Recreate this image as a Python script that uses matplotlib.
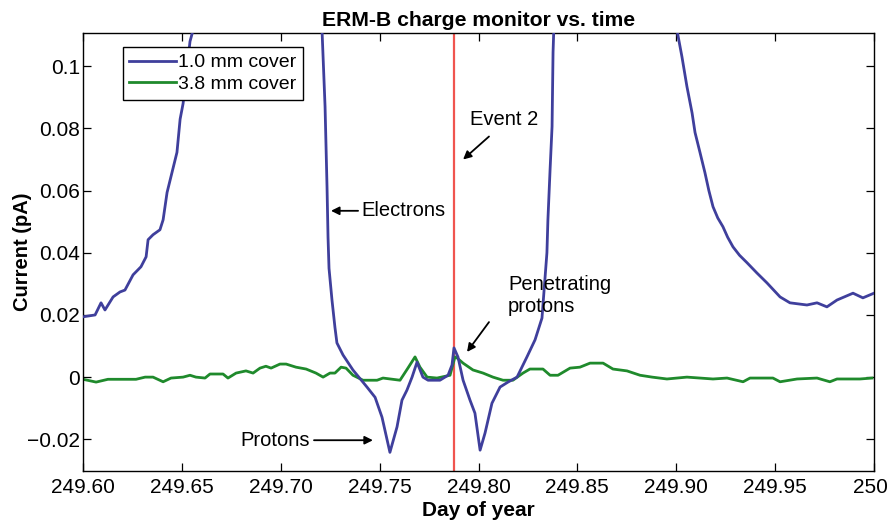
import matplotlib
matplotlib.use("Agg")
import matplotlib.pyplot as plt
import matplotlib.transforms as mtransforms

plt.rcParams['font.family'] = ['Liberation Sans', 'DejaVu Sans']

blue_day = [249.6000, 249.6061, 249.6091, 249.6111, 249.6152, 249.6187, 249.6212, 249.6253,
            249.6293, 249.6319, 249.6329, 249.6354, 249.6389, 249.6405, 249.6425, 249.6475,
            249.6491, 249.6506, 249.6541, 249.6556, 249.6580, 249.6900, 249.7195, 249.7209,
            249.7224, 249.7234, 249.7239, 249.7244, 249.7259, 249.7274, 249.7284, 249.7315,
            249.7365, 249.7436, 249.7477, 249.7512, 249.7552, 249.7588, 249.7613, 249.7638,
            249.7664, 249.7689, 249.7719, 249.7745, 249.7805, 249.7846, 249.7866, 249.7876,
            249.7896, 249.7922, 249.7957, 249.7982, 249.8008, 249.8033, 249.8068, 249.8109,
            249.8149, 249.8195, 249.8245, 249.8286, 249.8321, 249.8346, 249.8351, 249.8362,
            249.8372, 249.8377, 249.8385, 249.8700, 249.8995, 249.9004, 249.9029, 249.9054,
            249.9080, 249.9095, 249.9120, 249.9145, 249.9165, 249.9186, 249.9210, 249.9236,
            249.9260, 249.9287, 249.9320, 249.9358, 249.9408, 249.9459, 249.9525, 249.9575,
            249.9661, 249.9712, 249.9762, 249.9813, 249.9894, 249.9944, 250.0000]
blue_val = [0.0194, 0.0200, 0.0239, 0.0216, 0.0258, 0.0274, 0.0280, 0.0329,
            0.0355, 0.0387, 0.0442, 0.0458, 0.0474, 0.0506, 0.0594, 0.0723,
            0.0830, 0.0880, 0.1080, 0.1115, 0.1200, 0.2000, 0.1200, 0.1110,
            0.0870, 0.0610, 0.0450, 0.0350, 0.0248, 0.0160, 0.0110, 0.0071,
            0.0023, -0.0032, -0.0065, -0.0129, -0.0242, -0.0160, -0.0074, -0.0042,
            0.0000, 0.0048, 0.0000, -0.0010, -0.0010, 0.0006, 0.0039, 0.0094,
            0.0065, -0.0010, -0.0074, -0.0116, -0.0235, -0.0180, -0.0084, -0.0032,
            -0.0016, 0.0000, 0.0065, 0.0120, 0.0190, 0.0400, 0.0506, 0.0668,
            0.0806, 0.1045, 0.1200, 0.2000, 0.1200, 0.1115, 0.1030, 0.0935,
            0.0850, 0.0787, 0.0723, 0.0658, 0.0600, 0.0548, 0.0512, 0.0484,
            0.0450, 0.0419, 0.0392, 0.0368, 0.0335, 0.0303, 0.0258, 0.0239,
            0.0232, 0.0239, 0.0226, 0.0248, 0.0270, 0.0255, 0.0270]

green_day = [249.6000, 249.6066, 249.6126, 249.6268, 249.6314, 249.6354, 249.6405, 249.6445,
             249.6506, 249.6541, 249.6571, 249.6617, 249.6642, 249.6708, 249.6733, 249.6774,
             249.6824, 249.6860, 249.6895, 249.6925, 249.6951, 249.6996, 249.7027, 249.7077,
             249.7128, 249.7178, 249.7214, 249.7249, 249.7274, 249.7305, 249.7330, 249.7365,
             249.7416, 249.7487, 249.7517, 249.7603, 249.7643, 249.7679, 249.7704, 249.7740,
             249.7790, 249.7856, 249.7881, 249.7891, 249.7922, 249.7972, 249.8023, 249.8073,
             249.8124, 249.8174, 249.8225, 249.8260, 249.8326, 249.8362, 249.8402, 249.8463,
             249.8513, 249.8564, 249.8630, 249.8680, 249.8751, 249.8817, 249.8878, 249.8953,
             249.9054, 249.9186, 249.9257, 249.9338, 249.9373, 249.9489, 249.9525, 249.9611,
             249.9712, 249.9777, 249.9813, 249.9929, 249.9990]
green_val = [-0.0007, -0.0016, -0.0007, -0.0007, 0.0000, 0.0000, -0.0015, -0.0003,
             0.0000, 0.0006, 0.0000, -0.0003, 0.0010, 0.0010, -0.0003, 0.0013,
             0.0020, 0.0013, 0.0029, 0.0035, 0.0029, 0.0042, 0.0042, 0.0032,
             0.0026, 0.0013, 0.0000, 0.0013, 0.0013, 0.0032, 0.0029, 0.0006,
             -0.0010, -0.0010, -0.0003, -0.0010, 0.0029, 0.0065, 0.0032, 0.0000,
             -0.0003, 0.0006, 0.0065, 0.0062, 0.0045, 0.0023, 0.0013, 0.0000,
             -0.0010, -0.0010, 0.0013, 0.0026, 0.0026, 0.0006, 0.0006, 0.0029,
             0.0032, 0.0045, 0.0045, 0.0026, 0.0020, 0.0006, 0.0000, -0.0006,
             0.0000, -0.0006, -0.0003, -0.0015, -0.0003, -0.0003, -0.0015, -0.0006,
             -0.0003, -0.0015, -0.0006, -0.0006, -0.0003]

event_day = 249.7876

x_ticks = [249.60, 249.65, 249.70, 249.75, 249.80, 249.85, 249.90, 249.95, 250.00]
x_labels = ['249.60', '249.65', '249.70', '249.75', '249.80', '249.85', '249.90', '249.95', '250']
y_ticks = [-0.02, 0.0, 0.02, 0.04, 0.06, 0.08, 0.10]
y_labels = ['\u22120.02', '0', '0.02', '0.04', '0.06', '0.08', '0.1']

fig = plt.figure(figsize=(8.89, 5.22), dpi=100)
ax = fig.add_axes([0.0934, 0.0977, 0.8897, 0.8391])

BLUE = '#3f3f9c'
GREEN = '#1f8a2c'
RED = '#f0554f'

ax.axvline(event_day, color=RED, lw=1.6, zorder=1)
ax.plot(blue_day, blue_val, color=BLUE, lw=2.0, label='1.0 mm cover', zorder=3)
ax.plot(green_day, green_val, color=GREEN, lw=2.0, label='3.8 mm cover', zorder=2)

ax.set_xlim(249.60, 250.00)
ax.set_ylim(-0.0302, 0.1107)
ax.set_xticks(x_ticks)
ax.set_xticklabels(x_labels)
ax.set_yticks(y_ticks)
ax.set_yticklabels(y_labels)
ax.tick_params(direction='in', length=6, width=0.9, top=True, right=True, labelsize=15)
ax.tick_params(axis='x', pad=5)
ax.tick_params(axis='y', pad=2)
for s in ax.spines.values():
    s.set_linewidth(1.0)

# keep the last x label inside the picture
last = ax.get_xticklabels()[-1]
last.set_transform(last.get_transform() +
                   mtransforms.ScaledTranslation(-4 / 100, 0, fig.dpi_scale_trans))

ax.set_title('ERM-B charge monitor vs. time', fontsize=15.2, fontweight='bold', pad=5)
ax.set_xlabel('Day of year', fontsize=15, fontweight='bold', labelpad=3)
ax.set_ylabel('Current (pA)', fontsize=14.5, fontweight='bold')
ax.yaxis.set_label_coords(-0.064, 0.5)

leg = ax.legend(loc='upper left', bbox_to_anchor=(0.05, 0.968), fontsize=14,
                frameon=True, fancybox=False, framealpha=1, edgecolor='black',
                handlelength=2.4, handletextpad=0.1, borderpad=0.35, labelspacing=0.2,
                borderaxespad=0)
leg.get_frame().set_linewidth(1.0)
leg.set_zorder(5)

arrow = dict(arrowstyle='-|>', color='black', lw=1.3, mutation_scale=12,
             shrinkA=0, shrinkB=0)
fs = 14.5
ax.annotate('', xy=(249.7254, 0.0535), xytext=(249.7391, 0.0535), arrowprops=arrow)
ax.text(249.7410, 0.0535, 'Electrons', fontsize=fs, ha='left', va='center')

ax.text(249.7957, 0.0829, 'Event 2', fontsize=fs, ha='left', va='center')
ax.annotate('', xy=(249.7922, 0.0700), xytext=(249.8053, 0.0774), arrowprops=arrow)

ax.text(249.8149, 0.0261, 'Penetrating\nprotons', fontsize=fs, ha='left', va='center',
        linespacing=1.2)
ax.annotate('', xy=(249.7942, 0.0081), xytext=(249.8053, 0.0177), arrowprops=arrow)

ax.text(249.7148, -0.0203, 'Protons', fontsize=fs, ha='right', va='center')
ax.annotate('', xy=(249.7466, -0.0203), xytext=(249.7168, -0.0203), arrowprops=arrow)

fig.savefig('out.png', dpi=100)
